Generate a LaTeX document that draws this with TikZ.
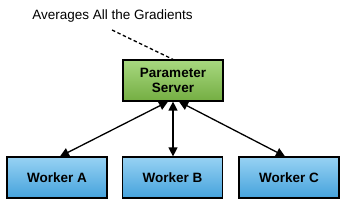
\documentclass[tikz,border=0pt]{standalone}
\usepackage{fontspec}
\setmainfont{Liberation Sans}
\usetikzlibrary{arrows.meta,shadings}
\definecolor{gtop}{HTML}{A8D880}
\definecolor{gbot}{HTML}{74AE42}
\definecolor{btop}{HTML}{97D2F3}
\definecolor{bbot}{HTML}{45A2DC}
\tikzset{
  box/.style={draw=black, line width=1.2pt, minimum width=100pt, minimum height=41pt,
    inner sep=0pt, font=\fontsize{13.5}{15.5}\selectfont\bfseries, align=center},
  psbox/.style={box, top color=gtop, bottom color=gbot},
  wbox/.style={box, top color=btop, bottom color=bbot},
  link/.style={line width=1.3pt, {Triangle[length=9pt,width=9pt]}-{Triangle[length=9pt,width=9pt]}},
}
\begin{document}
\begin{tikzpicture}[x=1pt,y=-1pt]
\useasboundingbox (0,0) rectangle (345,203);
\node[font=\fontsize{13.5}{15.5}\selectfont] (note) at (112.5,16) {Averages All the Gradients};
\node[psbox] (ps) at (173,80.5) {Parameter\\Server};
\node[wbox] (wa) at (57,177.5) {Worker A};
\node[wbox] (wb) at (172.5,177.5) {Worker B};
\node[wbox] (wc) at (289,177.5) {Worker C};
\coordinate (dstart) at (112,30);
\draw[line width=1.3pt, dash pattern=on 3.5pt off 2.5pt] (dstart) -- (ps.north);
\draw[link] ([xshift=-5pt]ps.south) -- ([xshift=3pt]wa.north);
\draw[link] (ps.south) -- (ps.south |- wb.north);
\draw[link] ([xshift=6pt]ps.south) -- ([xshift=-4pt]wc.north);
\end{tikzpicture}
\end{document}
